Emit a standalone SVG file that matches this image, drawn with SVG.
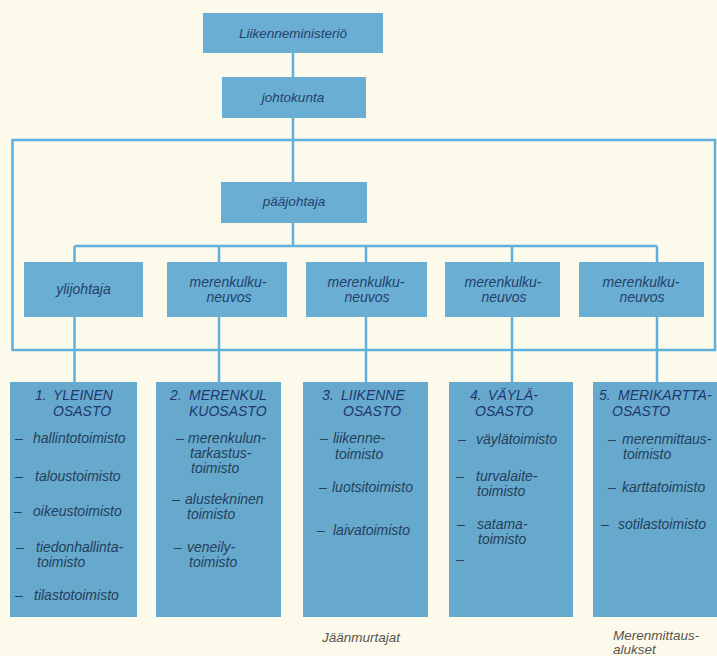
<svg xmlns="http://www.w3.org/2000/svg" width="717" height="656" viewBox="0 0 717 656">
<style>
  .bg { fill: #fcfaeb; }
  .box { fill: #6aafd3; }
  .dept { fill: #67a9cc; }
  .ln { stroke: #5eb0de; stroke-width: 2.5; fill: none; }
  text { font-family: "Liberation Sans", Arial, sans-serif; font-style: italic; }
  .lbl { font-size: 13.5px; fill: #24406a; text-anchor: middle; }
  .sub { font-size: 14px; }
  .hd { font-size: 14px; fill: #1f3770; }
  .it { font-size: 14px; fill: #24405c; }
  .note { font-size: 13.5px; fill: #555550; }
</style>
<rect class="bg" x="0" y="0" width="717" height="656"/>

<g id="connectors">
  <line class="ln" x1="293" y1="53" x2="293" y2="77"/>
  <line class="ln" x1="293" y1="118" x2="293" y2="182"/>
  <line class="ln" x1="293" y1="223" x2="293" y2="246"/>
  <rect class="ln" x="12.5" y="140" width="702.5" height="210"/>
  <line class="ln" x1="74.5" y1="246" x2="657" y2="246"/>
  <line class="ln" x1="74.5" y1="246" x2="74.5" y2="382"/>
  <line class="ln" x1="219" y1="246" x2="219" y2="382"/>
  <line class="ln" x1="366" y1="246" x2="366" y2="382"/>
  <line class="ln" x1="512" y1="246" x2="512" y2="382"/>
  <line class="ln" x1="657" y1="246" x2="657" y2="382"/>
</g>

<g id="liikenneministerio">
  <rect class="box" x="203" y="13" width="180" height="40"/>
  <text class="lbl" x="293" y="38">Liikenneministeriö</text>
</g>
<g id="johtokunta">
  <rect class="box" x="222" y="77" width="144" height="41"/>
  <text class="lbl" x="293" y="102">johtokunta</text>
</g>
<g id="paajohtaja">
  <rect class="box" x="221" y="182" width="146" height="41"/>
  <text class="lbl" x="294" y="206">pääjohtaja</text>
</g>

<g id="ylijohtaja">
  <rect class="box" x="24" y="262" width="119" height="55"/>
  <text class="lbl sub" x="83.5" y="294">ylijohtaja</text>
</g>
<g id="neuvos1">
  <rect class="box" x="167" y="262" width="120" height="55"/>
  <text class="lbl sub" x="228" y="287">merenkulku-</text>
  <text class="lbl sub" x="229" y="302">neuvos</text>
</g>
<g id="neuvos2">
  <rect class="box" x="306" y="262" width="121" height="55"/>
  <text class="lbl sub" x="366" y="287">merenkulku-</text>
  <text class="lbl sub" x="367" y="302">neuvos</text>
</g>
<g id="neuvos3">
  <rect class="box" x="445" y="262" width="115" height="55"/>
  <text class="lbl sub" x="503" y="287">merenkulku-</text>
  <text class="lbl sub" x="504" y="302">neuvos</text>
</g>
<g id="neuvos4">
  <rect class="box" x="579" y="262" width="125" height="55"/>
  <text class="lbl sub" x="641" y="287">merenkulku-</text>
  <text class="lbl sub" x="642" y="302">neuvos</text>
</g>

<g id="osasto1">
  <rect class="dept" x="10" y="382" width="127" height="235"/>
  <text class="hd" y="400"><tspan x="35">1.</tspan><tspan x="53">YLEINEN</tspan></text>
  <text class="hd" x="53" y="416">OSASTO</text>
  <text class="it" x="15" y="443">–</text><text class="it" x="33" y="443">hallintotoimisto</text>
  <text class="it" x="15" y="481">–</text><text class="it" x="35" y="481">taloustoimisto</text>
  <text class="it" x="14" y="516">–</text><text class="it" x="33" y="516">oikeustoimisto</text>
  <text class="it" x="16" y="552">–</text><text class="it" x="36" y="552">tiedonhallinta-</text>
  <text class="it" x="37" y="567">toimisto</text>
  <text class="it" x="15" y="600">–</text><text class="it" x="34" y="600">tilastotoimisto</text>
</g>
<g id="osasto2">
  <rect class="dept" x="156" y="382" width="125" height="235"/>
  <text class="hd" y="400"><tspan x="170">2.</tspan><tspan x="189">MERENKUL</tspan></text>
  <text class="hd" x="189" y="416">KUOSASTO</text>
  <text class="it" x="176" y="443">–</text><text class="it" x="188" y="443">merenkulun-</text>
  <text class="it" x="190" y="458">tarkastus-</text>
  <text class="it" x="191" y="473">toimisto</text>
  <text class="it" x="172" y="504">–</text><text class="it" x="185" y="504">alustekninen</text>
  <text class="it" x="187" y="519">toimisto</text>
  <text class="it" x="174" y="552">–</text><text class="it" x="187" y="552">veneily-</text>
  <text class="it" x="189" y="567">toimisto</text>
</g>
<g id="osasto3">
  <rect class="dept" x="303" y="382" width="125" height="235"/>
  <text class="hd" y="400"><tspan x="322">3.</tspan><tspan x="341">LIIKENNE</tspan></text>
  <text class="hd" x="343" y="416">OSASTO</text>
  <text class="it" x="320" y="443">–</text><text class="it" x="333" y="443">liikenne-</text>
  <text class="it" x="335" y="459">toimisto</text>
  <text class="it" x="319" y="492">–</text><text class="it" x="332" y="492">luotsitoimisto</text>
  <text class="it" x="317" y="535">–</text><text class="it" x="333" y="535">laivatoimisto</text>
</g>
<g id="osasto4">
  <rect class="dept" x="449" y="382" width="124" height="235"/>
  <text class="hd" y="400"><tspan x="470">4.</tspan><tspan x="488">VÄYLÄ-</tspan></text>
  <text class="hd" x="475" y="416">OSASTO</text>
  <text class="it" x="458" y="444">–</text><text class="it" x="476" y="444">väylätoimisto</text>
  <text class="it" x="456" y="481">–</text><text class="it" x="476" y="481">turvalaite-</text>
  <text class="it" x="477" y="496">toimisto</text>
  <text class="it" x="457" y="529">–</text><text class="it" x="477" y="529">satama-</text>
  <text class="it" x="478" y="544">toimisto</text>
  <text class="it" x="456" y="564">–</text>
</g>
<g id="osasto5">
  <rect class="dept" x="593" y="382" width="124" height="235"/>
  <text class="hd" y="400"><tspan x="599">5.</tspan><tspan x="618">MERIKARTTA-</tspan></text>
  <text class="hd" x="612" y="416">OSASTO</text>
  <text class="it" x="608" y="444">–</text><text class="it" x="622" y="444">merenmittaus-</text>
  <text class="it" x="623" y="459">toimisto</text>
  <text class="it" x="608" y="492">–</text><text class="it" x="622" y="492">karttatoimisto</text>
  <text class="it" x="601" y="529">–</text><text class="it" x="618" y="529">sotilastoimisto</text>
</g>

<g id="notes">
  <text class="note" x="322" y="642">Jäänmurtajat</text>
  <text class="note" x="613" y="640">Merenmittaus-</text>
  <text class="note" x="613" y="654">alukset</text>
</g>
</svg>
